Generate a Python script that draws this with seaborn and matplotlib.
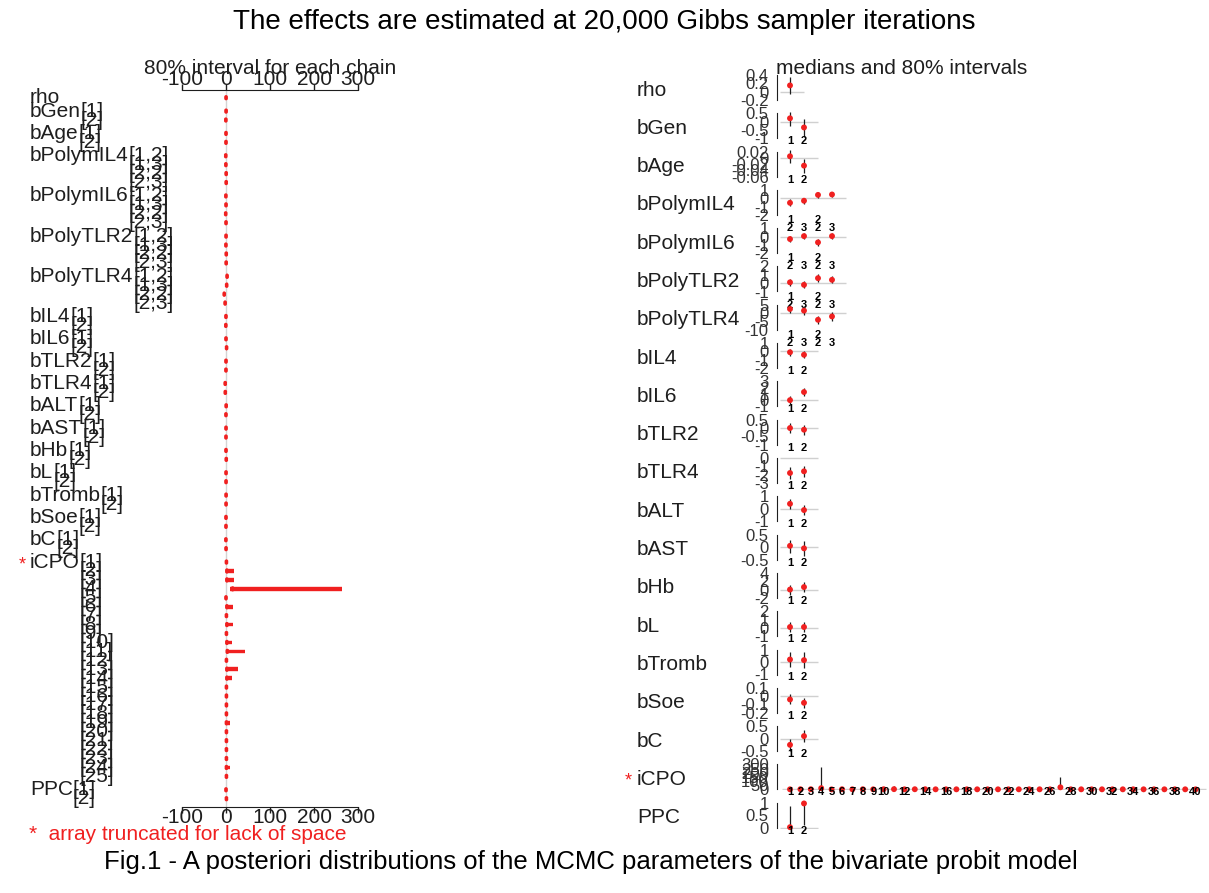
import matplotlib
matplotlib.use("Agg")
import matplotlib.pyplot as plt
import matplotlib.transforms as mtransforms
import seaborn as sns
import pandas as pd

# ---- values ----
params = ['rho', 'bGen', 'bAge', 'bPolymIL4', 'bPolymIL6', 'bPolyTLR2', 'bPolyTLR4',
          'bIL4', 'bIL6', 'bTLR2', 'bTLR4', 'bALT', 'bAST', 'bHb', 'bL',
          'bTromb', 'bSoe', 'bC', 'iCPO', 'PPC']
mat_params = ['bPolymIL4', 'bPolymIL6', 'bPolyTLR2', 'bPolyTLR4']
mat_index = ['1,2', '1,3', '2,2', '2,3']
mat_top = ['1', '', '2', '']
mat_bottom = ['2', '3', '2', '3']

icpo_med = [1, 2, 2, 15, 0, 2, 1, 2, 1, 2,
            3, 1, 2, 2, 1, 1, 1, 1, 1, 1,
            1, 1, 1, 1, 1, 1, 25, 1, 1, 1,
            1, 1, 1, 1, 1, 1, 1, 1, 1, 1]
icpo_lo = [0, 0, 0, 9, -2, 0, 0, 0, 0, 0,
           0, 0, 0, 0, 0, 0, 0, 0, 0, 0,
           0, 0, 0, 0, 0, 0, 8, 0, 0, 0,
           0, 0, 0, 0, 0, 0, 0, 0, 0, 0]
icpo_hi = [3, 18, 18, 264, 2, 17, 3, 15, 3, 13,
           43, 3, 27, 13, 3, 3, 3, 3, 8, 3,
           3, 3, 3, 8, 3, 3, 150, 3, 3, 3,
           3, 3, 3, 3, 3, 3, 3, 3, 3, 3]
icpo_labels = ['1', '2', '3', '4', '5', '6', '7', '8', '9', '10', '12', '14', '16', '18',
               '20', '22', '24', '26', '28', '30', '32', '34', '36', '38', '40']
icpo_shown = 25  # left panel is truncated

medians = [[0.15], [0.2, -0.35], [0.005, -0.025],
           [-0.55, -0.3, 0.4, 0.45], [-0.3, 0.05, -0.7, 0.05],
           [0.1, -0.2, 0.6, 0.4], [2.5, 1.5, -4, -2],
           [-0.1, -0.4], [0.0, 1.3], [0.0, -0.1], [-1.8, -1.6],
           [0.4, -0.1], [0.05, -0.05], [0.0, 0.6], [0.1, 0.1],
           [0.2, 0.15], [-0.04, -0.08], [-0.25, 0.1], icpo_med, [0.02, 0.97]]
lower = [[-0.05], [-0.25, -0.9], [-0.015, -0.05],
         [-0.95, -0.65, 0.0, 0.1], [-0.7, -0.3, -1.1, -0.3],
         [-0.4, -0.6, 0.1, 0.0], [0, -1, -6.5, -4.5],
         [-0.5, -0.8], [-0.6, 0.6], [-0.3, -0.4], [-2.5, -2.3],
         [0.0, -0.5], [-0.25, -0.35], [-1.2, -0.6], [-0.5, -0.5],
         [-0.4, -0.5], [-0.09, -0.14], [-0.5, -0.15], icpo_lo, [0.0, 0.12]]
upper = [[0.35], [0.6, 0.15], [0.025, -0.005],
         [-0.15, 0.05, 0.8, 0.8], [0.1, 0.4, -0.3, 0.4],
         [0.5, 0.2, 1.1, 0.8], [5, 4, -1.5, 0.5],
         [0.3, 0.0], [0.6, 2.0], [0.3, 0.2], [-1.1, -0.9],
         [0.8, 0.3], [0.3, 0.25], [1.2, 1.8], [0.7, 0.7],
         [0.8, 0.8], [0.02, -0.02], [0.0, 0.35], icpo_hi, [0.88, 1.0]]
yticks = [[-0.2, 0, 0.2, 0.4], [-1, -0.5, 0, 0.5], [-0.06, -0.04, -0.02, 0, 0.02],
          [-2, -1, 0, 1], [-2, -1, 0, 1], [-1, 0, 1, 2], [-10, -5, 0, 5],
          [-2, -1, 0, 1], [-1, 0, 1, 2, 3], [-1, -0.5, 0, 0.5], [-3, -2, -1, 0],
          [-1, 0, 1], [-0.5, 0, 0.5], [-2, 0, 2, 4], [-1, 0, 1, 2],
          [-1, 0, 1], [-0.2, -0.1, 0, 0.1], [-0.5, 0, 0.5],
          [0, 50, 100, 150, 200, 250, 300], [0, 0.5, 1]]
left_ticks = [-100, 0, 100, 200, 300]

RED = '#f02020'
INK = '#1e1e1e'

sns.set_style('white')
plt.rcParams['font.family'] = ['Liberation Sans', 'DejaVu Sans']
plt.rcParams['axes.unicode_minus'] = False

W, H = 1209, 893
fig = plt.figure(figsize=(W / 100, H / 100), dpi=100)


def fx(px):
    return px / W


def fy(py):
    return 1 - py / H


# ---- left panel: 80% interval per chain ----
recs = []
pos = 0.0
for k, name in enumerate(params):
    n = icpo_shown if name == 'iCPO' else len(medians[k])
    if k:
        pos += 0.5
    for j in range(n):
        if name in mat_params:
            idx = '[' + mat_index[j] + ']'
        elif len(medians[k]) == 1:
            idx = ''
        else:
            idx = '[%d]' % (j + 1)
        recs.append(dict(param=name, idx=idx, pos=pos, med=medians[k][j],
                         lo=lower[k][j], hi=upper[k][j]))
        pos += 1
left = pd.DataFrame(recs)

row_px, first_px, top_px, bot_px = 8.93, 97.7, 90, 807
axL = fig.add_axes([fx(182), fy(bot_px), fx(358) - fx(182), (bot_px - top_px) / H])
axL.patch.set_alpha(0)
axL.axvline(0, color='#d4d4d4', lw=1, zorder=0)
for off in (-0.09, 0.09):
    axL.hlines(left['pos'] + off, left['lo'], left['hi'], color=RED, lw=1.7)
    sns.scatterplot(x=left['med'], y=left['pos'] + off, ax=axL, color=RED, s=7,
                    edgecolor='none', linewidth=0, zorder=3)
y_top = -(first_px - top_px) / row_px
axL.set_ylim(y_top + (bot_px - top_px) / row_px, y_top)
axL.set_xlim(-100, 300)
axL.set_xticks(left_ticks)
axL.set_yticks([])
axL.set_xlabel('')
axL.set_ylabel('')
axL.tick_params(axis='x', top=True, labeltop=True, bottom=True, labelbottom=True,
                direction='out', length=4, width=1, pad=-3, labelsize=15, colors=INK)
for s in ['left', 'right']:
    axL.spines[s].set_visible(False)
for s in ['top', 'bottom']:
    axL.spines[s].set_color(INK)
    axL.spines[s].set_bounds(left_ticks[0], left_ticks[-1])

lab_tr = mtransforms.blended_transform_factory(fig.transFigure, axL.transData)
for name, grp in left.groupby('param', sort=False):
    t = axL.text(fx(30), grp['pos'].iloc[0], name, transform=lab_tr, fontsize=15,
                 color=INK, va='center', ha='left')
    for _, r in grp.iterrows():
        if r['idx']:
            axL.annotate(r['idx'], xy=(1, r['pos']), xycoords=(t, axL.transData),
                         fontsize=15, color=INK, va='center', ha='left',
                         annotation_clip=False)

fig.text(fx(270), fy(68), '80% interval for each chain', fontsize=15, color=INK,
         ha='center', va='center')
fig.text(fx(29), fy(834), '*  array truncated for lack of space', fontsize=15,
         color=RED, ha='left', va='center')
fig.text(fx(22), fy(565), '*', fontsize=13, color=RED, ha='center', va='center')

# ---- right panel: medians and 80% intervals ----
row0, row_step = 90, 38.3
spine_px, first_pt_px = 777, 790
for k, name in enumerate(params):
    ry = row0 + k * row_step
    n = len(medians[k])
    step = 10.4 if n > 10 else 14
    ax = fig.add_axes([fx(spine_px), fy(ry + 11), 1 - fx(spine_px), 27 / H])
    ax.patch.set_alpha(0)
    xs = list(range(1, n + 1))
    ax.hlines(0, 0.25, n + 1, color='#d0d0d0', lw=1, zorder=0)
    ax.vlines(xs, lower[k], upper[k], color=INK, lw=0.9, clip_on=False)
    sns.scatterplot(x=xs, y=medians[k], ax=ax, color=RED, s=18, edgecolor='none',
                    linewidth=0, zorder=3, clip_on=False)
    x0 = 1 - (first_pt_px - spine_px) / step
    ax.set_xlim(x0, x0 + (W - spine_px) / step)
    tk = yticks[k]
    pad = 0.04 * (tk[-1] - tk[0])
    ax.set_ylim(tk[0] - pad, tk[-1] + pad)
    ax.set_yticks(tk, ['%g' % v for v in tk])
    ax.set_xticks([])
    ax.set_xlabel('')
    ax.set_ylabel('')
    ax.tick_params(axis='y', direction='out', length=4, width=1, pad=2,
                   labelsize=12, colors='#333333')
    for s in ['top', 'right', 'bottom']:
        ax.spines[s].set_visible(False)
    ax.spines['left'].set_color(INK)
    ax.spines['left'].set_bounds(tk[0], tk[-1])

    tr = mtransforms.blended_transform_factory(ax.transData, fig.transFigure)
    lab_kw = dict(transform=tr, fontsize=8, fontweight='bold', color='black',
                  ha='center', va='center', clip_on=False)
    if name in mat_params:
        for j in range(n):
            ax.text(j + 1, fy(ry + 15), mat_top[j], **lab_kw)
            ax.text(j + 1, fy(ry + 23), mat_bottom[j], **lab_kw)
    elif name == 'iCPO':
        for lab in icpo_labels:
            ax.text(int(lab), fy(ry + 13), lab, **lab_kw)
    elif n > 1:
        for j in range(n):
            ax.text(j + 1, fy(ry + 13), str(j + 1), **lab_kw)

    fig.text(fx(637), fy(ry), name, fontsize=15, color=INK, ha='left', va='center')
    if name == 'iCPO':
        fig.text(fx(628), fy(ry + 2), '*', fontsize=13, color=RED, ha='center', va='center')

fig.text(fx(902), fy(68), 'medians and 80% intervals', fontsize=15, color=INK,
         ha='center', va='center')

fig.text(0.5, fy(22), 'The effects are estimated at 20,000 Gibbs sampler iterations',
         fontsize=20, color='black', ha='center', va='center')
fig.text(fx(591), fy(862),
         'Fig.1 - A posteriori distributions of the MCMC parameters of the bivariate probit model',
         fontsize=18.5, color='black', ha='center', va='center')

fig.savefig('out.png', dpi=100)
